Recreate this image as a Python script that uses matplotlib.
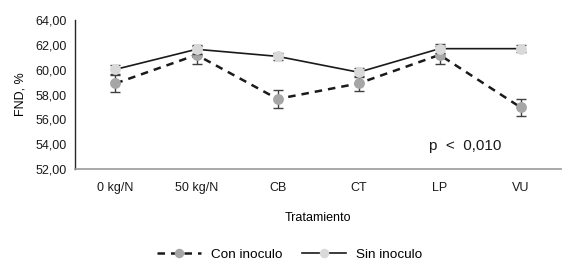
import matplotlib
matplotlib.use("Agg")
import matplotlib.pyplot as plt
from matplotlib.ticker import FuncFormatter
from matplotlib.lines import Line2D

categories = ["0 kg/N", "50 kg/N", "CB", "CT", "LP", "VU"]
con_inoculo = [58.9, 61.2, 57.65, 58.9, 61.2, 56.97]
con_err = [0.7, 0.7, 0.7, 0.6, 0.7, 0.7]
sin_inoculo = [60.03, 61.65, 61.08, 59.8, 61.7, 61.7]
sin_err = [0.35, 0.35, 0.3, 0.35, 0.35, 0.3]
yticks = [52, 54, 56, 58, 60, 62, 64]

plt.rcParams['font.family'] = ['Liberation Sans', 'DejaVu Sans']

fig = plt.figure(figsize=(5.68, 2.68), dpi=100)
ax = fig.add_axes([0.132, 0.369, 0.856, 0.556])

con_style = dict(color='#1a1a1a', lw=1.8, ls=(0, (3.0, 2.4)), marker='o', ms=6.8,
                 mfc='#a6a6a6', mec='#a6a6a6')
sin_style = dict(color='#1a1a1a', lw=1.2, ls='-', marker='o', ms=6.8,
                 mfc='#d9d9d9', mec='#d9d9d9')

x = list(range(len(categories)))
ax.errorbar(x, con_inoculo, yerr=con_err, ecolor='#404040',
            elinewidth=1.0, capsize=3.5, capthick=1.0, zorder=3, **con_style)
ax.errorbar(x, sin_inoculo, yerr=sin_err, ecolor='#404040',
            elinewidth=1.0, capsize=3.5, capthick=1.0, zorder=4, **sin_style)

ax.set_xlim(-0.5, len(categories) - 0.5)
ax.set_ylim(52, 64)
ax.set_yticks(yticks)
ax.yaxis.set_major_formatter(FuncFormatter(lambda v, p: f"{v:.2f}".replace('.', ',')))
ax.set_xticks(x)
ax.set_xticklabels(categories)
ax.tick_params(axis='both', length=0, labelsize=9, colors='#1a1a1a')
ax.tick_params(axis='x', pad=9)
ax.tick_params(axis='y', pad=6)
for s in ['top', 'right']:
    ax.spines[s].set_visible(False)
ax.spines['left'].set_color('#262626')
ax.spines['bottom'].set_color('#999999')
ax.spines['left'].set_linewidth(1.0)
ax.spines['bottom'].set_linewidth(1.2)

ax.set_ylabel('FND, %', fontsize=9, labelpad=6)
ax.set_xlabel('Tratamiento', fontsize=9, labelpad=13)

ax.text(4.31, 53.9, 'p  <  0,010', fontsize=11, ha='center', va='center', color='#1a1a1a')

handles = [Line2D([], [], **{**con_style, 'ms': 5.8}), Line2D([], [], **{**sin_style, 'ms': 5.8})]
fig.legend(handles, ['Con inoculo', 'Sin inoculo'], loc='center', bbox_to_anchor=(0.51, 0.05),
           ncol=2, frameon=False, fontsize=9.7, handlelength=3.3, columnspacing=1.4,
           handletextpad=0.75)

fig.savefig('out.png', dpi=100)
